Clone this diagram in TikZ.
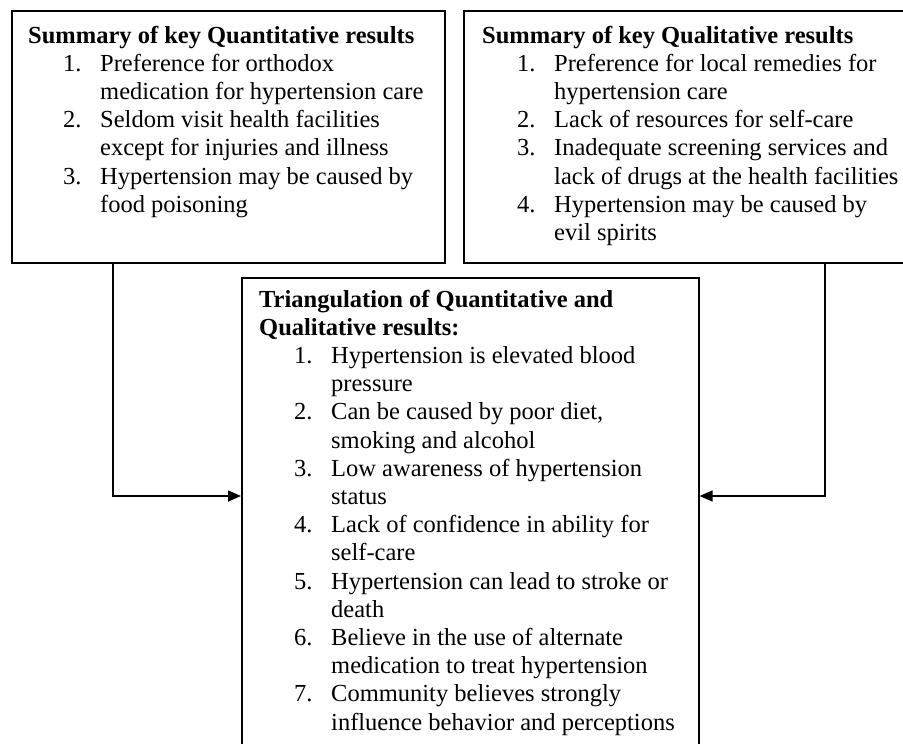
\documentclass[tikz,border=0pt]{standalone}
\usepackage{fontspec}
\setmainfont{Liberation Serif}
\usetikzlibrary{arrows.meta}

\newcommand{\numline}[2]{\hspace*{35pt}\makebox[37pt][l]{#1}#2}
\newcommand{\wrapline}[1]{\hspace*{72pt}#1}

\tikzset{
    resultbox/.style={draw, line width=2.4pt, rectangle, anchor=north west, inner sep=0pt},
    tribox/.style={draw, line width=1.6pt, rectangle, anchor=north west, inner sep=0pt},
    listtext/.style={anchor=base west, inner sep=0pt, align=left,
        font=\fontsize{24.5pt}{28.2pt}\selectfont},
    link/.style={line width=1.6pt, -{Triangle[length=13pt,width=11pt]}}
}

\begin{document}
\begin{tikzpicture}[x=1pt, y=-1pt]
        \useasboundingbox (0, 0) rectangle (903, 744);

        \node[resultbox, minimum width=433pt, minimum height=252pt] (quant) at (11, 10) {};
        \node[resultbox, minimum width=447pt, minimum height=252pt] (qual) at (463, 10) {};
        \node[tribox, minimum width=457pt, minimum height=483pt] (tri) at (241, 277) {};

        \node[listtext] (quant-text) at (28, 212.2) {\textbf{Summary of key Quantitative results}\\
            \numline{1.}{Preference for orthodox}\\
            \wrapline{medication for hypertension care}\\
            \numline{2.}{Seldom visit health facilities}\\
            \wrapline{except for injuries and illness}\\
            \numline{3.}{Hypertension may be caused by}\\
            \wrapline{food poisoning}};

        \node[listtext] (qual-text) at (482, 240.4) {\textbf{Summary of key Qualitative results}\\
            \numline{1.}{Preference for local remedies for}\\
            \wrapline{hypertension care}\\
            \numline{2.}{Lack of resources for self-care}\\
            \numline{3.}{Inadequate screening services and}\\
            \wrapline{lack of drugs at the health facilities}\\
            \numline{4.}{Hypertension may be caused by}\\
            \wrapline{evil spirits}};

        \node[listtext] (tri-text) at (259, 730) {\textbf{Triangulation of Quantitative and}\\
            \textbf{Qualitative results:}\\
            \numline{1.}{Hypertension is elevated blood}\\
            \wrapline{pressure}\\
            \numline{2.}{Can be caused by poor diet,}\\
            \wrapline{smoking and alcohol}\\
            \numline{3.}{Low awareness of hypertension}\\
            \wrapline{status}\\
            \numline{4.}{Lack of confidence in ability for}\\
            \wrapline{self-care}\\
            \numline{5.}{Hypertension can lead to stroke or}\\
            \wrapline{death}\\
            \numline{6.}{Believe in the use of alternate}\\
            \wrapline{medication to treat hypertension}\\
            \numline{7.}{Community believes strongly}\\
            \wrapline{influence behavior and perceptions}};

        \coordinate (quant-out) at (113, 262);
        \coordinate (qual-out) at (825, 262);

        \draw[link] (quant-out) |- (tri.west |- 0, 496);
        \draw[link] (qual-out) |- (tri.east |- 0, 496);
    \end{tikzpicture}
\end{document}
